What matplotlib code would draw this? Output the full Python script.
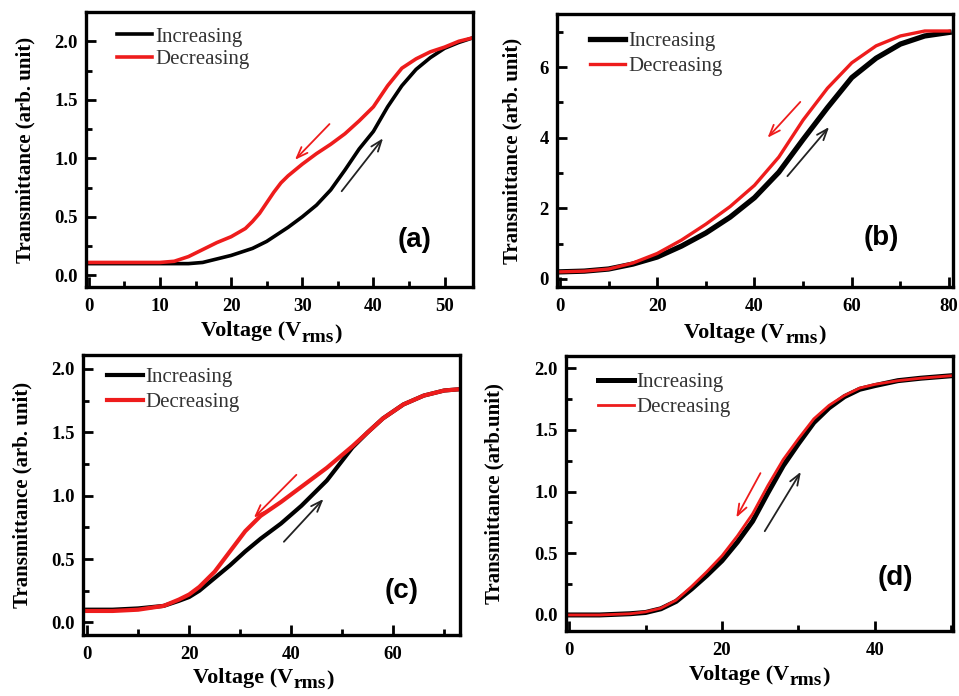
import numpy as np
import matplotlib
matplotlib.use('Agg')
import matplotlib.pyplot as plt
from matplotlib.ticker import MultipleLocator, FormatStrFormatter

plt.rcParams['font.family'] = ['Liberation Serif', 'DejaVu Serif']
plt.rcParams['font.weight'] = 'bold'

## panel (a)
va = [0, 5, 10, 12, 14, 16, 18, 20, 22, 23, 24, 25, 26, 27, 28, 30, 32, 34, 36, 38, 40, 42, 44, 46, 48, 50, 52, 54]
inc_a = [0.10, 0.10, 0.10, 0.10, 0.10, 0.11, 0.14, 0.17, 0.21, 0.23, 0.26, 0.29, 0.33, 0.37, 0.41, 0.50, 0.60,
         0.73, 0.90, 1.08, 1.23, 1.44, 1.62, 1.76, 1.86, 1.94, 1.99, 2.03]
dec_a = [0.11, 0.11, 0.11, 0.12, 0.16, 0.22, 0.28, 0.33, 0.40, 0.46, 0.53, 0.62, 0.71, 0.79, 0.85, 0.95, 1.04,
         1.12, 1.21, 1.32, 1.44, 1.62, 1.77, 1.85, 1.91, 1.95, 2.00, 2.03]

## panel (b)
vb = [0, 5, 10, 15, 20, 25, 30, 35, 40, 45, 50, 55, 60, 65, 70, 75, 80]
inc_b = [0.20, 0.22, 0.28, 0.42, 0.62, 0.93, 1.30, 1.75, 2.30, 3.02, 3.95, 4.85, 5.70, 6.25, 6.65, 6.88, 6.98]
dec_b = [0.20, 0.22, 0.28, 0.45, 0.72, 1.10, 1.55, 2.05, 2.65, 3.45, 4.50, 5.40, 6.12, 6.60, 6.88, 7.02, 7.02]

## panel (c)
vc = [0, 5, 10, 15, 18, 20, 22, 25, 28, 31, 34, 38, 42, 47, 52, 55, 58, 62, 66, 70, 73]
inc_c = [0.10, 0.10, 0.11, 0.13, 0.17, 0.20, 0.25, 0.35, 0.45, 0.56, 0.66, 0.78, 0.92, 1.12, 1.38,
         1.50, 1.61, 1.72, 1.79, 1.83, 1.84]
dec_c = [0.09, 0.09, 0.10, 0.13, 0.18, 0.22, 0.28, 0.40, 0.56, 0.72, 0.84, 0.95, 1.07, 1.22, 1.39,
         1.50, 1.61, 1.72, 1.79, 1.83, 1.84]

## panel (d)
vd = [0, 4, 8, 10, 12, 14, 16, 18, 20, 22, 24, 26, 28, 30, 32, 34, 36, 38, 40, 43, 46, 50]
inc_d = [0.0, 0.0, 0.01, 0.02, 0.05, 0.11, 0.21, 0.32, 0.44, 0.59, 0.76, 0.99, 1.21, 1.39, 1.56,
         1.68, 1.77, 1.83, 1.86, 1.90, 1.92, 1.94]
dec_d = [0.0, 0.0, 0.01, 0.025, 0.055, 0.12, 0.23, 0.35, 0.48, 0.64, 0.82, 1.05, 1.26, 1.43, 1.59,
         1.70, 1.78, 1.84, 1.87, 1.90, 1.92, 1.94]

## arrows: (tail, tip) for decreasing (red) and increasing (black)
arr_a = [((34.1, 1.31), (28.7, 0.97)), ((35.3, 0.70), (41.6, 1.19))]
arr_b = [((49.8, 5.07), (42.3, 3.94)), ((46.4, 2.85), (55.7, 4.36))]
arr_c = [((41.4, 1.18), (32.3, 0.81)), ((38.2, 0.62), (46.7, 0.99))]
arr_d = [((25.2, 1.17), (21.7, 0.77)), ((25.4, 0.66), (30.5, 1.18))]

panels = [
    dict(v=va, inc=inc_a, dec=dec_a, arr=arr_a, rect=[0.0897, 0.5876, 0.4035, 0.3951],
         xlim=(-0.4, 54), ylim=(-0.1, 2.25), xmaj=10, xmin=5, ymaj=0.5, ymin=0.25, yfmt='%.1f',
         ylab='Transmittance (arb. unit)', ylc=-0.13, xlc=(0.48, -0.125),
         leg=(0.08, 0.945), lsp=0.12, tag='(a)', tagpos=(0.85, 0.171), lwk=2.6, lwr=2.6),
    dict(v=vb, inc=inc_b, dec=dec_b, arr=arr_b, rect=[0.5808, 0.5876, 0.4129, 0.3922],
         xlim=(-0.6, 80.8), ylim=(-0.23, 7.5), xmaj=20, xmin=10, ymaj=2, ymin=1, yfmt='%d',
         ylab='Transmittance (arb. unit)', ylc=-0.088, xlc=(0.5, -0.13),
         leg=(0.083, 0.935), lsp=0.25, tag='(b)', tagpos=(0.82, 0.18), lwk=3.8, lwr=2.4),
    dict(v=vc, inc=inc_c, dec=dec_c, arr=arr_c, rect=[0.0866, 0.0876, 0.3931, 0.4023],
         xlim=(-0.8, 73.1), ylim=(-0.1, 2.11), xmaj=20, xmin=10, ymaj=0.5, ymin=0.25, yfmt='%.1f',
         ylab='Transmittance (arb. unit)', ylc=-0.135, xlc=(0.478, -0.118),
         leg=(0.064, 0.955), lsp=0.25, tag='(c)', tagpos=(0.846, 0.157), lwk=3.0, lwr=3.0),
    dict(v=vd, inc=inc_d, dec=dec_d, arr=arr_d, rect=[0.5902, 0.0934, 0.4035, 0.3951],
         xlim=(-0.4, 50.2), ylim=(-0.13, 2.1), xmaj=20, xmin=10, ymaj=0.5, ymin=0.25, yfmt='%.1f',
         ylab='Transmittance (arb.unit)', ylc=-0.158, xlc=(0.50, -0.122),
         leg=(0.083, 0.94), lsp=0.25, tag='(d)', tagpos=(0.85, 0.193), lwk=3.6, lwr=2.0),
]

fig = plt.figure(figsize=(9.59, 6.96), dpi=100)

xlabs = []
for p in panels:
    ax = fig.add_axes(p['rect'])
    ax.plot(p['v'], p['inc'], color='black', lw=p['lwk'], label='Increasing', solid_joinstyle='round')
    ax.plot(p['v'], p['dec'], color='#ee1c1c', lw=p['lwr'], label='Decreasing', solid_joinstyle='round')

    (rt, rh), (kt, kh) = p['arr']
    ax.annotate('', xy=rh, xytext=rt,
                arrowprops=dict(arrowstyle='->,head_length=0.8,head_width=0.3', color='#ee1c1c', lw=1.3))
    ax.annotate('', xy=kh, xytext=kt,
                arrowprops=dict(arrowstyle='->,head_length=0.8,head_width=0.3', color='#222222', lw=1.3))

    ax.set_xlim(*p['xlim'])
    ax.set_ylim(*p['ylim'])
    ax.xaxis.set_major_locator(MultipleLocator(p['xmaj']))
    ax.xaxis.set_minor_locator(MultipleLocator(p['xmin']))
    ax.yaxis.set_major_locator(MultipleLocator(p['ymaj']))
    ax.yaxis.set_minor_locator(MultipleLocator(p['ymin']))
    ax.yaxis.set_major_formatter(FormatStrFormatter(p['yfmt']))
    ax.tick_params(which='both', direction='in', width=2, labelsize=13.5)
    ax.tick_params(which='major', length=7)
    ax.tick_params(which='minor', length=4)
    ax.tick_params(axis='x', pad=8)
    ax.tick_params(axis='y', pad=6)
    for s in ax.spines.values():
        s.set_linewidth(2.4)

    ax.set_ylabel(p['ylab'], fontsize=15, fontweight='bold')
    ax.yaxis.set_label_coords(p['ylc'], 0.5)

    # x label with a large lowered subscript
    t1 = ax.text(0.3, p['xlc'][1], 'Voltage (V', transform=ax.transAxes, ha='left', va='top',
                 fontsize=16, fontweight='bold')
    t2 = ax.annotate('rms', xy=(1.0, 0.0), xycoords=t1, xytext=(0.3, -3), textcoords='offset points',
                     ha='left', va='bottom', fontsize=14, fontweight='bold')
    t3 = ax.annotate(')', xy=(1.0, 0.0), xycoords=t2, xytext=(0.3, 1), textcoords='offset points',
                     ha='left', va='bottom', fontsize=16, fontweight='bold')
    xlabs.append((ax, t1, t3, p['xlc'][0]))

    leg = ax.legend(loc='upper left', bbox_to_anchor=p['leg'], frameon=False, borderpad=0,
                    borderaxespad=0, handlelength=1.7, handletextpad=0.15, labelspacing=p['lsp'],
                    prop={'family': 'Liberation Serif', 'weight': 'normal', 'size': 15})
    for t in leg.get_texts():
        t.set_color('#333333')

    ax.text(p['tagpos'][0], p['tagpos'][1], p['tag'], transform=ax.transAxes, ha='center', va='center',
            fontsize=20, fontweight='bold', family='Liberation Sans')

# centre the composed x labels
fig.canvas.draw()
r = fig.canvas.get_renderer()
for ax, t1, t3, cx in xlabs:
    b1 = t1.get_window_extent(r)
    b3 = t3.get_window_extent(r)
    w = (b3.x1 - b1.x0) / ax.bbox.width
    t1.set_x(cx - w / 2)

fig.savefig('out.png', dpi=100)
